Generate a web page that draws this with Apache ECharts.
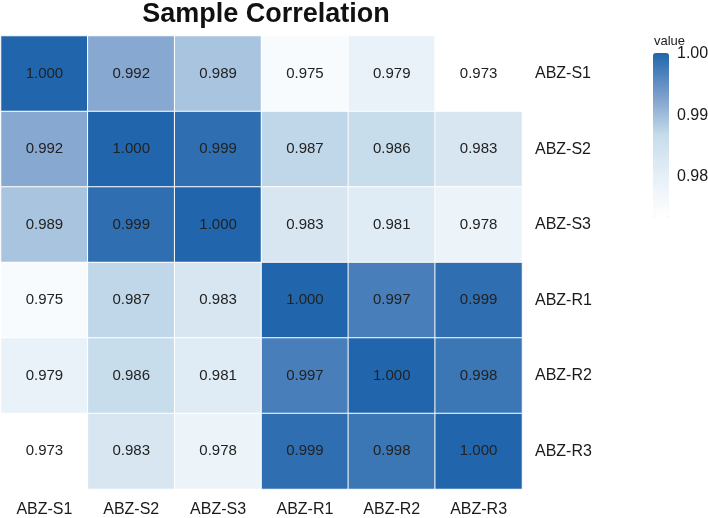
<!DOCTYPE html>
<html>
<head>
<meta charset="utf-8">
<script src="https://cdn.jsdelivr.net/npm/echarts@6/dist/echarts.min.js"></script>
<style>html,body{margin:0;padding:0;background:#fff}#c{width:708px;height:518px}</style>
</head>
<body>
<div id="c"></div>
<script>
var samples = ['ABZ-S1','ABZ-S2','ABZ-S3','ABZ-R1','ABZ-R2','ABZ-R3'];
var rowS1 = [1.000, 0.992, 0.989, 0.975, 0.979, 0.973];
var rowS2 = [0.992, 1.000, 0.999, 0.987, 0.986, 0.983];
var rowS3 = [0.989, 0.999, 1.000, 0.983, 0.981, 0.978];
var rowR1 = [0.975, 0.987, 0.983, 1.000, 0.997, 0.999];
var rowR2 = [0.979, 0.986, 0.981, 0.997, 1.000, 0.998];
var rowR3 = [0.973, 0.983, 0.978, 0.999, 0.998, 1.000];
var legendTicks = [1.00, 0.99, 0.98];
var legendMin = 0.973, legendMax = 1.000;

var rows = [rowS1, rowS2, rowS3, rowR1, rowR2, rowR3];
var data = [];
rows.forEach(function (r, yi) {
  r.forEach(function (v, xi) { data.push([xi, yi, v]); });
});

var barLeft = 653, barTop = 53, barW = 16, barH = 165;
var graphics = [{
  type: 'text', left: barLeft + 1, top: 35,
  style: { text: 'value', fontSize: 13, fontFamily: 'Liberation Sans', fill: '#1a1a1a' }
}];
legendTicks.forEach(function (t) {
  var y = barTop + (legendMax - t) / (legendMax - legendMin) * barH;
  graphics.push({
    type: 'text', left: barLeft + barW + 8, top: y - 7,
    style: { text: t.toFixed(2), fontSize: 16, fontFamily: 'Liberation Sans', fill: '#1a1a1a' }
  });
  graphics.push({ type: 'line', shape: { x1: barLeft, y1: y, x2: barLeft + 3, y2: y }, style: { stroke: '#fff', lineWidth: 1 } });
  graphics.push({ type: 'line', shape: { x1: barLeft + barW - 3, y1: y, x2: barLeft + barW, y2: y }, style: { stroke: '#fff', lineWidth: 1 } });
});

var chart = echarts.init(document.getElementById('c'));
chart.setOption({
  animation: false,
  backgroundColor: '#fff',
  title: {
    text: 'Sample Correlation', left: 261, top: -4, textAlign: 'center',
    textStyle: { fontSize: 27, fontWeight: 'bold', fontFamily: 'Liberation Sans', color: '#111' }
  },
  grid: { left: 1, right: 186, top: 36, bottom: 27 },
  xAxis: {
    type: 'category', data: samples,
    axisLine: { show: false }, axisTick: { show: false }, splitLine: { show: false },
    axisLabel: { fontSize: 16, fontFamily: 'Liberation Sans', color: '#1a1a1a', margin: 13 }
  },
  yAxis: {
    type: 'category', data: samples, position: 'right', inverse: true,
    axisLine: { show: false }, axisTick: { show: false }, splitLine: { show: false },
    axisLabel: { fontSize: 16, fontFamily: 'Liberation Sans', color: '#1a1a1a', margin: 13 }
  },
  visualMap: {
    type: 'continuous', min: legendMin, max: legendMax, calculable: false,
    orient: 'vertical', left: barLeft, top: barTop, itemWidth: barW, itemHeight: barH,
    text: null, showLabel: false, padding: 0,
    inRange: { color: ['#ffffff', '#e6f0f7', '#c6dceb', '#789ccb', '#2166ac'] }
  },
  graphic: graphics,
  series: [{
    type: 'heatmap', data: data,
    itemStyle: { borderColor: '#ffffff', borderWidth: 1 },
    label: {
      show: true, fontSize: 15, fontFamily: 'Liberation Sans', color: '#222',
      formatter: function (p) { return p.value[2].toFixed(3); }
    },
    emphasis: { disabled: true }
  }]
});
</script>
</body>
</html>
